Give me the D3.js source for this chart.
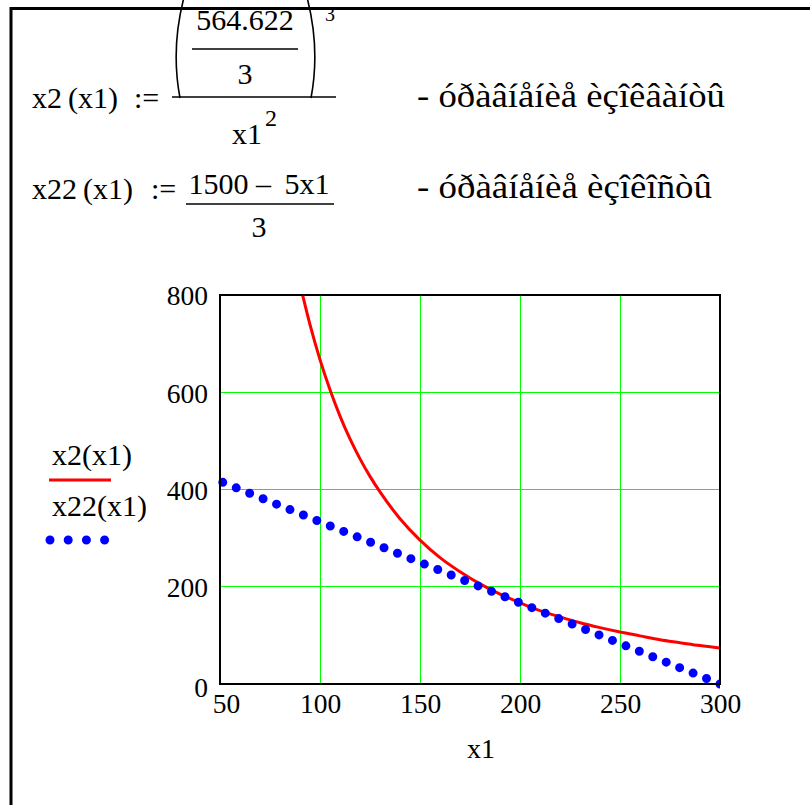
<!DOCTYPE html>
<html>
<head>
<meta charset="utf-8">
<script src="https://cdn.jsdelivr.net/npm/d3@7"></script>
<style>
  body { margin: 0; background: #fff; }
  svg text { font-family: "Liberation Serif", "DejaVu Serif", "Times New Roman", serif; fill: #000; }
</style>
</head>
<body>
<div class="chart-area"></div>
<script>
// values
var x2X = [91.3, 95, 100, 105, 110, 115, 120, 125, 130, 140, 150, 160, 170, 180, 190, 200, 210, 220, 230, 240, 250, 260, 270, 280, 290, 300];
var x2Y = [800, 739, 667, 605, 551, 504, 463, 427, 395, 340, 296, 260, 231, 206, 185, 167, 151, 138, 126, 116, 107, 99, 91, 85, 79, 74];
var x22X = [50, 300];
var x22Y = [417, 0];
var xTicks = [50, 100, 150, 200, 250, 300];
var yTicks = [0, 200, 400, 600, 800];
var legendNames = ["x2(x1)", "x22(x1)"];

var serif = "Liberation Serif";

var svg = d3.select(".chart-area").append("svg")
    .attr("width", 810)
    .attr("height", 805);

// worksheet frame
svg.append("path")
    .attr("d", "M11,805 V8.5 H810")
    .attr("fill", "none")
    .attr("stroke", "#000")
    .attr("stroke-width", 3);

// formulas at the top
var fs = 30;
function txt(x, y, s, size, anchor) {
    return svg.append("text")
        .attr("x", x)
        .attr("y", y)
        .attr("font-family", serif)
        .attr("font-size", size || fs)
        .attr("text-anchor", anchor || "start")
        .text(s);
}
function bar(x1, x2, y) {
    svg.append("line")
        .attr("x1", x1).attr("x2", x2)
        .attr("y1", y).attr("y2", y)
        .attr("stroke", "#000")
        .attr("stroke-width", 1.5);
}

txt(32, 108, "x2\u2009(x1)");
txt(134, 108, ":=");
bar(172, 336, 97);
txt(245, 30, "564.622", fs, "middle");
bar(192, 298, 49);
txt(245, 84, "3", fs, "middle");
// big parentheses (top cut off like in the screenshot)
svg.append("path")
    .attr("d", "M186,-10 Q170,45 180,98")
    .attr("fill", "none").attr("stroke", "#000").attr("stroke-width", 1.6);
svg.append("path")
    .attr("d", "M305,-10 Q321,45 311,98")
    .attr("fill", "none").attr("stroke", "#000").attr("stroke-width", 1.6);
txt(325, 21, "3", 20);
txt(232, 144, "x1");
txt(265, 126, "2", 24);
txt(417, 107, "- óðàâíåíèå èçîêâàíòû", 33)
    .attr("textLength", 308).attr("lengthAdjust", "spacingAndGlyphs");

txt(32, 199, "x22\u2009(x1)");
txt(151, 199, ":=");
bar(186, 334, 204);
txt(259, 194, "1500 \u2013\u2009 5x1", fs, "middle");
txt(259, 237, "3", fs, "middle");
txt(417, 198, "- óðàâíåíèå èçîêîñòû", 33)
    .attr("textLength", 295).attr("lengthAdjust", "spacingAndGlyphs");

// plot
var x = d3.scaleLinear().domain([50, 300]).range([220, 720]);
var y = d3.scaleLinear().domain([0, 800]).range([684, 295]);

var grid = svg.append("g").attr("shape-rendering", "crispEdges");
grid.selectAll("line.v")
    .data(xTicks.slice(1))
    .enter().append("line")
    .attr("class", "v")
    .attr("x1", function(d) { return x(d); })
    .attr("x2", function(d) { return x(d); })
    .attr("y1", y(0))
    .attr("y2", y(800))
    .attr("stroke", "#00ff00")
    .attr("stroke-width", 1);
grid.selectAll("line.h")
    .data(yTicks.slice(1, 4))
    .enter().append("line")
    .attr("class", "h")
    .attr("x1", x(50))
    .attr("x2", x(300))
    .attr("y1", function(d) { return y(d); })
    .attr("y2", function(d) { return y(d); })
    .attr("stroke", "#00ff00")
    .attr("stroke-width", 1);

svg.append("defs").append("clipPath")
    .attr("id", "clip")
    .append("rect")
    .attr("x", x(50) - 6)
    .attr("y", y(800))
    .attr("width", x(300) - x(50) + 6)
    .attr("height", y(0) - y(800) + 6);

var plot = svg.append("g").attr("clip-path", "url(#clip)");

var redLine = d3.line()
    .x(function(d, i) { return x(x2X[i]); })
    .y(function(d, i) { return y(x2Y[i]); })
    .curve(d3.curveMonotoneX);
plot.append("path")
    .attr("d", redLine(x2X))
    .attr("fill", "none")
    .attr("stroke", "#ff0000")
    .attr("stroke-width", 3);

var blueLine = d3.line()
    .x(function(d, i) { return x(x22X[i]); })
    .y(function(d, i) { return y(x22Y[i]); });
plot.append("path")
    .attr("d", blueLine(x22X))
    .attr("fill", "none")
    .attr("stroke", "#0000ff")
    .attr("stroke-width", 9)
    .attr("stroke-linecap", "round")
    .attr("stroke-dasharray", "0 14.5")
    .attr("stroke-dashoffset", -3);

// frame of the plot
svg.append("rect")
    .attr("x", x(50))
    .attr("y", y(800))
    .attr("width", x(300) - x(50))
    .attr("height", y(0) - y(800))
    .attr("fill", "none")
    .attr("stroke", "#000")
    .attr("stroke-width", 2);

// axis labels
var yAxis = svg.append("g")
    .attr("transform", "translate(" + (x(50) - 12) + ",0)")
    .call(d3.axisLeft(y).tickValues(yTicks).tickSize(0).tickPadding(0));
yAxis.attr("font-family", serif).attr("font-size", 27.5);
yAxis.select(".domain").remove();
yAxis.selectAll("text").attr("dy", "0.36em");
yAxis.selectAll(".tick").filter(function(d) { return d === 0; })
    .select("text").attr("dy", "0.45em");

var xAxis = svg.append("g")
    .attr("transform", "translate(0," + (y(0) + 9) + ")")
    .call(d3.axisBottom(x).tickValues(xTicks).tickSize(0).tickPadding(0));
xAxis.attr("font-family", serif).attr("font-size", 27.5);
xAxis.select(".domain").remove();
xAxis.selectAll("text").attr("dy", "0.72em");
xAxis.selectAll(".tick").filter(function(d) { return d === 50; })
    .select("text").attr("dx", 6);

txt(481, 758, "x1", 28, "middle");

// legend
txt(52, 465, legendNames[0], 30);
svg.append("line")
    .attr("x1", 49).attr("x2", 111)
    .attr("y1", 480).attr("y2", 480)
    .attr("stroke", "#ff0000")
    .attr("stroke-width", 3);
txt(52, 516, legendNames[1], 30);
svg.append("line")
    .attr("x1", 50).attr("x2", 105)
    .attr("y1", 540).attr("y2", 540)
    .attr("stroke", "#0000ff")
    .attr("stroke-width", 9)
    .attr("stroke-linecap", "round")
    .attr("stroke-dasharray", "0 18.2");
</script>
</body>
</html>
